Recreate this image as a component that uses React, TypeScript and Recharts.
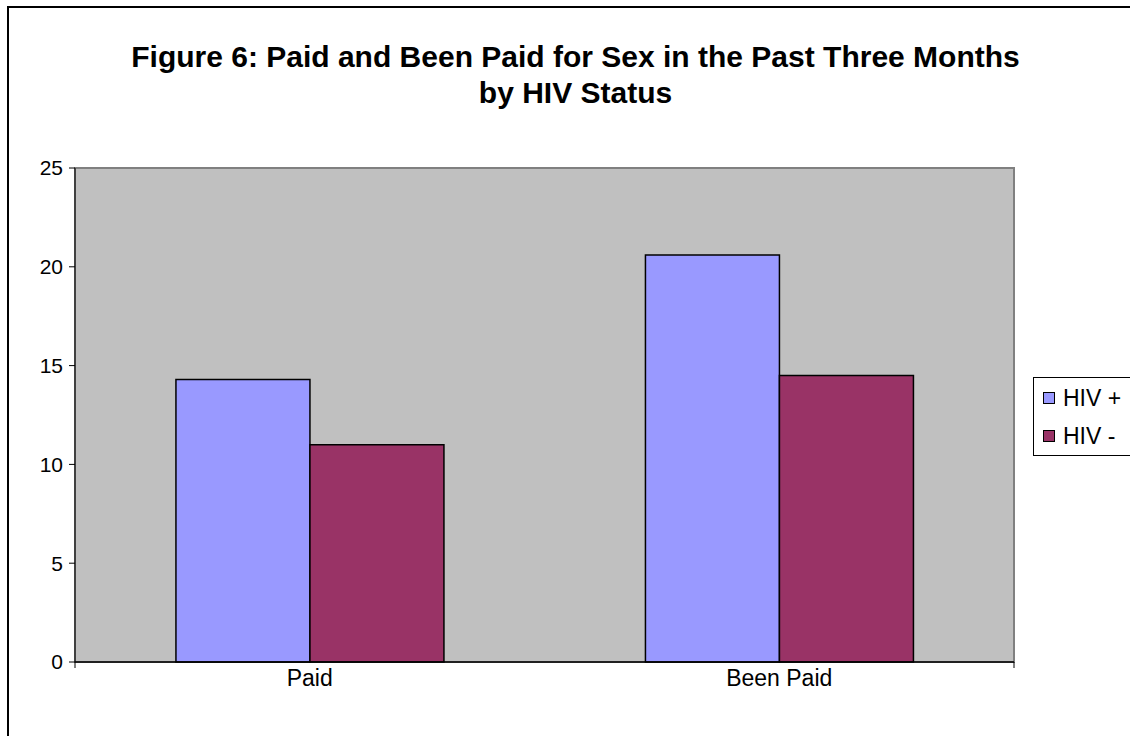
import { BarChart, Bar, XAxis, YAxis, CartesianGrid, ReferenceArea, Legend } from "recharts";

const categories = ["Paid", "Been Paid"];
const hivPositive = [14.3, 20.6];
const hivNegative = [11.0, 14.5];
const yTicks = [0, 5, 10, 15, 20, 25];
// category boundaries, used for the tick marks on the x axis
const boundaryTicks = [0, 1, 2];

const data = categories.map((name, i) => ({
  name,
  pos: hivPositive[i],
  neg: hivNegative[i],
}));

const FONT = "'Liberation Sans', Arial, sans-serif";

function LegendBox({ payload }: any) {
  return (
    <div
      style={{
        border: "1px solid #000",
        borderRight: "none",
        background: "#fff",
        width: 110,
        height: 79,
        boxSizing: "border-box",
        padding: "1px 0 0 9px",
        fontFamily: FONT,
        fontSize: 23,
        color: "#000",
      }}
    >
      {(payload || []).map((p: any) => (
        <div key={p.value} style={{ display: "flex", alignItems: "center", height: 38 }}>
          <span
            style={{
              width: 10,
              height: 10,
              border: "1px solid #000",
              background: p.color,
              display: "inline-block",
              marginRight: 8,
            }}
          />
          <span style={{ whiteSpace: "pre" }}>{p.value}</span>
        </div>
      ))}
    </div>
  );
}

export default function App() {
  return (
    <div style={{ position: "fixed", left: 0, top: 0, width: 1130, height: 736, background: "#fff", overflow: "hidden" }}>
      {/* outer chart border, runs off the right and bottom of the picture */}
      <div
        style={{
          position: "absolute",
          left: 7,
          top: 6,
          width: 1140,
          height: 760,
          border: "2px solid #000",
          boxSizing: "border-box",
        }}
      />
      <div
        style={{
          position: "absolute",
          left: 0,
          width: 1151,
          top: 39,
          textAlign: "center",
          fontFamily: FONT,
          fontWeight: "bold",
          fontSize: 30,
          lineHeight: "36px",
          color: "#000",
        }}
      >
        Figure 6: Paid and Been Paid for Sex in the Past Three Months
        <br />
        by HIV Status
      </div>
      <div style={{ position: "absolute", left: 0, top: 0 }}>
        <BarChart
          width={1130}
          height={736}
          data={data}
          margin={{ top: 168, right: 116, bottom: 0, left: 0 }}
          barCategoryGap="21.5%"
          barGap={0}
        >
          <CartesianGrid xAxisId="cat" fill="#c0c0c0" horizontal={false} vertical={false} />
          <ReferenceArea xAxisId="cat" y1={0} y2={25} fill="none" stroke="#808080" strokeWidth={2} ifOverflow="visible" />
          <XAxis
            type="number"
            domain={[0, 2]}
            ticks={boundaryTicks}
            height={1}
            tickSize={6}
            tick={() => <g />}
            stroke="#000"
            axisLine={{ stroke: "#000", strokeWidth: 1.5 }}
          />
          <XAxis
            xAxisId="cat"
            dataKey="name"
            height={73}
            axisLine={false}
            tickLine={false}
            tickSize={0}
            tickMargin={7}
            tick={{ fill: "#000", fontSize: 23, fontFamily: FONT }}
          />
          <YAxis
            width={75}
            domain={[0, 25]}
            ticks={yTicks}
            tickSize={6}
            tickMargin={6}
            stroke="#000"
            tick={{ fill: "#000", fontSize: 21, fontFamily: FONT }}
          />
          <Legend
            layout="vertical"
            align="center"
            verticalAlign="middle"
            content={<LegendBox />}
            wrapperStyle={{ position: "absolute", left: 1033, top: 377, width: 110 }}
          />
          <Bar xAxisId="cat" dataKey="pos" name="HIV +" fill="#9999ff" stroke="#000" strokeWidth={1.5} isAnimationActive={false} />
          <Bar xAxisId="cat" dataKey="neg" name="HIV -" fill="#993366" stroke="#000" strokeWidth={1.5} isAnimationActive={false} />
        </BarChart>
      </div>
    </div>
  );
}
